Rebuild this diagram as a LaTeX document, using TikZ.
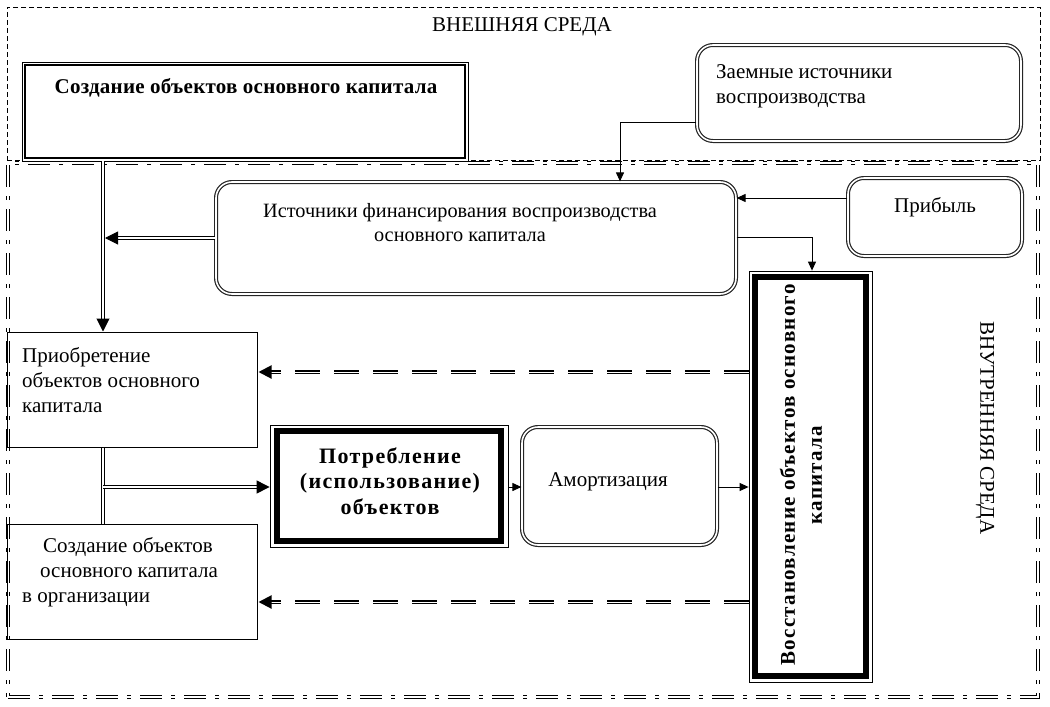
\documentclass[tikz,border=0pt]{standalone}
\usepackage{fontspec}
\setmainfont{Liberation Serif}
\usetikzlibrary{arrows.meta}
\begin{document}
\begin{tikzpicture}[x=1pt,y=-1pt,
  every node/.style={font=\fontsize{21}{25}\selectfont, inner sep=0pt},
  rbox/.style={draw=black!85, double=white, double distance=1.6pt, line width=1.2pt, rounded corners=16pt},
  pbox/.style={draw, line width=1pt},
  tbox/.style={draw, line width=6pt},
  obox/.style={draw, line width=0.8pt},
  thinarr/.style={draw, line width=1pt, -{Triangle[length=9pt,width=8pt]}},
  dbl/.style={draw, double=white, double distance=1.8pt, line width=1pt},
  bigtip/.style={-{Triangle[length=13pt,width=13pt]}},
  dashdbl/.style={draw, double=white, double distance=0.9pt, line width=2pt, dash pattern=on 25pt off 14pt},
  envout/.style={draw, line width=1pt, dash pattern=on 5pt off 3pt},
  envin/.style={draw, double=white, double distance=2.2pt, line width=1pt, dash pattern=on 22pt off 9pt on 4pt off 9pt}
]
\useasboundingbox (0,0) rectangle (1050,707);
% environments
\node[envout, minimum width=1033, minimum height=153] (ext) at (523.5,83.5) {};
\node[envin, minimum width=1030, minimum height=534] (int) at (523,430) {};
\node (extt) at (522,27) {ВНЕШНЯЯ СРЕДА};
\node[rotate=-90] (intt) at (985,428) {ВНУТРЕННЯЯ СРЕДА};
% box 1
\node[obox, minimum width=446, minimum height=99, fill=white] (b1out) at (245,111.5) {};
\node[draw, line width=2.5pt, minimum width=440, minimum height=93] (b1) at (245,111.5) {};
\node[font=\fontsize{21}{25}\selectfont\bfseries\addfontfeatures{LetterSpace=1.2}] (b1t) at (246,88) {Создание объектов основного капитала};
% borrowed sources
\node[rbox, minimum width=324, minimum height=96] (zaem) at (859,93) {};
\node[anchor=west, align=left] (zaemt) at (716,86) {Заемные источники\\воспроизводства};
% sources of financing
\node[rbox, minimum width=520, minimum height=112] (ist) at (476,238) {};
\node[align=center, font=\fontsize{20.3}{24}\selectfont] (istt) at (460,223) {Источники финансирования воспроизводства\\основного капитала};
% profit
\node[rbox, minimum width=174, minimum height=78] (prib) at (935,217) {};
\node (pribt) at (935,207) {Прибыль};
% restoration
\node[obox, minimum width=123, minimum height=411] (vosout) at (810.5,476.5) {};
\node[tbox, minimum width=111, minimum height=399] (vos) at (810.5,476.5) {};
\node[rotate=90, align=center, font=\fontsize{21}{27}\selectfont\bfseries\addfontfeatures{LetterSpace=6}] (vost) at (801,475) {Восстановление объектов основного\\капитала};
% acquisition
\node[pbox, minimum width=250, minimum height=115] (prio) at (132,389.5) {};
\node[anchor=west, align=left] (priot) at (22,380) {Приобретение\\объектов основного\\капитала};
% creation in organisation
\node[pbox, minimum width=250, minimum height=115] (sozd) at (132,581.5) {};
\node[anchor=west, align=left] (sozdt) at (22,572) {\hspace*{21pt}Создание объектов\\\hspace*{18pt}основного капитала\\в организации};
% consumption
\node[obox, minimum width=238, minimum height=122] (potrout) at (389,486) {};
\node[tbox, minimum width=224, minimum height=110] (potr) at (389,486) {};
\node[align=center, font=\fontsize{22}{25.5}\selectfont\bfseries\addfontfeatures{LetterSpace=6}] (potrt) at (390,481) {Потребление\\(использование)\\объектов};
% amortisation
\node[rbox, minimum width=195, minimum height=118] (amort) at (619.5,486) {};
\node (amortt) at (608,482) {Амортизация};
% connectors
\coordinate (j1) at (105,238);
\coordinate (j2) at (103,487);
\draw[thinarr] (zaem.west |- 0,122) -| (ist.north -| 620,0);
\draw[thinarr] (prib.west |- 0,198) -- (ist.east |- 0,198);
\draw[thinarr] (ist.east |- 0,237) -| (vosout.north -| 812,0);
\draw[dbl, bigtip] (b1out.south -| 103,0) -- (prio.north -| 103,0);
\draw[dbl, bigtip] (ist.west |- j1) -- (j1);
\draw[dbl] (prio.south -| 103,0) -- (sozd.north -| 103,0);
\draw[dbl, bigtip] (j2) -- (potrout.west |- j2);
\draw[thinarr] (potrout.east |- 0,487) -- (amort.west |- 0,487);
\draw[thinarr] (amort.east |- 0,487) -- (vosout.west |- 0,487);
\draw[dashdbl, bigtip] (vosout.west |- 0,372) -- ([xshift=1pt]prio.east |- 0,372);
\draw[dashdbl, bigtip] (vosout.west |- 0,602) -- ([xshift=1pt]sozd.east |- 0,602);
\end{tikzpicture}
\end{document}
